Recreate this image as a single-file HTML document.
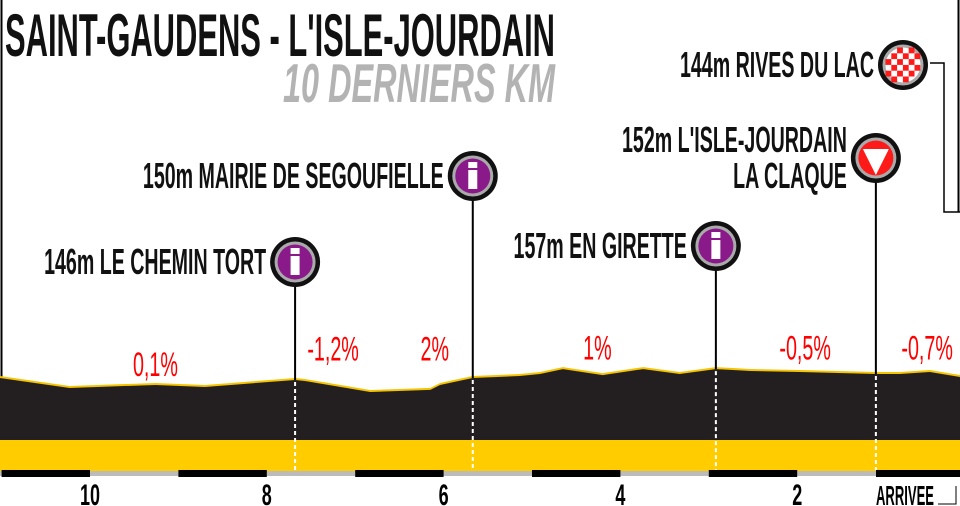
<!DOCTYPE html>
<html><head><meta charset="utf-8"><style>
html,body{margin:0;padding:0;background:#fff;width:960px;height:506px;overflow:hidden}
svg{display:block}
.lbl{font-family:"Liberation Sans",sans-serif;font-weight:bold;fill:#111}
.pct{font-family:"Liberation Sans",sans-serif;fill:#ff0000}
.ax{font-family:"Liberation Sans",sans-serif;font-weight:bold;fill:#000}
</style></head><body>
<svg id="chart" width="960" height="506" viewBox="0 0 960 506">
<g id="frame">
<line x1="1.5" y1="0" x2="1.5" y2="378" stroke="#000" stroke-width="2"/>
<line x1="958.5" y1="0" x2="958.5" y2="212" stroke="#000" stroke-width="2"/>
<polyline points="930,63 944,63 944,212 960,212" fill="none" stroke="#000" stroke-width="1.5"/>
</g>
<text class="lbl" x="5" y="56" font-size="60" textLength="550" lengthAdjust="spacingAndGlyphs">SAINT-GAUDENS - L'ISLE-JOURDAIN</text>
<text class="lbl" x="283" y="102" font-size="55" font-style="italic" style="fill:#b3b3b3" textLength="272" lengthAdjust="spacingAndGlyphs">10 DERNIERS KM</text>
<g id="profile"></g>
<g id="axis"></g>
<g id="markers"></g>
<g id="pcts"></g>
</svg>
<script>
const kms=[11.02,10.23,9.26,8.70,7.68,7.57,6.83,6.15,6.04,5.67,5.14,4.91,4.65,4.20,3.74,3.33,2.92,2.73,2.53,1.97,1.11,0.84,0.50,0.16];
const elevs=[151,144.2,146.3,144.9,149.7,149,141.5,142.9,146.3,151,152.4,153.7,157.1,153,157.1,153.7,157.1,156.5,155.8,155.1,153.7,153.7,155.1,151.7];
const tickKm=[10,8,6,4,2];
const tickLabels=["10","8","6","4","2"];
const gradeLabels=["0,1%","-1,2%","2%","1%","-0,5%","-0,7%"];
const gradeKm=[9.26,7.25,6.1,4.26,1.91,0.53];
const gradeElev=[152.5,163,163,163.5,163.5,163.5];
const poiNames=[["146m LE CHEMIN TORT"],["150m MAIRIE DE SEGOUFIELLE"],["157m EN GIRETTE"],["152m L'ISLE-JOURDAIN","LA CLAQUE"]];
const poiKm=[7.68,5.67,2.92,1.11];
const poiY=[262,176,246,158];
const poiType=["info","info","info","finish"];
const NS="http://www.w3.org/2000/svg";
const X=km=>974-88.4*km;
const Y=e=>600-e*1.47;
function mk(tag,attrs,parent){const el=document.createElementNS(NS,tag);for(const k in attrs)el.setAttribute(k,attrs[k]);parent.appendChild(el);return el;}
const prof=document.getElementById('profile');
const pts=kms.map((k,i)=>[X(k),Y(elevs[i])]);
pts[0][0]=0;pts[pts.length-1][0]=960;
const topLine=pts.map(p=>p[0]+','+p[1]).join(' ');
const yl=mk('polygon',{points:pts.map(p=>p[0]+','+(p[1]-2)).join(' ')+' 960,440 0,440',fill:'#f5c400'},prof);


const dk=mk('polygon',{points:topLine+' 960,440 0,440',fill:'#231f20'},prof);


const band=mk('rect',{x:0,y:440,width:960,height:31,fill:'#ffcc00'},prof);


const ax=document.getElementById('axis');
mk('rect',{x:0,y:471,width:960,height:5,fill:'#bbbbbb'},ax);
for(let i=0;i<6;i++){
 const x0=Math.max(0,X(11-2*i));const x1=X(10-2*i);
 const r=mk('rect',{x:x0,y:470,width:x1-x0,height:7,fill:'#000'},ax);
 
 
}
mk('rect',{x:876,y:470,width:84,height:7,fill:'#000'},ax);
tickKm.forEach((k,i)=>{
 const t=mk('text',{class:'ax',x:X(k),y:505,'font-size':30,'text-anchor':'middle',transform:`translate(${X(k)} 0) scale(0.6 1) translate(${-X(k)} 0)`},ax);
 t.textContent=tickLabels[i];
 
 
});
const ar=mk('text',{class:'ax',x:876,y:505,'font-size':28,textLength:58,lengthAdjust:'spacingAndGlyphs'},ax);
ar.textContent='ARRIVEE';


mk('polyline',{points:'938,504 956,504 956,486',fill:'none',stroke:'#000','stroke-width':1},ax);
const pc=document.getElementById('pcts');
gradeLabels.forEach((g,i)=>{
 const gx=X(gradeKm[i]);
 const t=mk('text',{class:'pct',x:gx,y:Y(gradeElev[i]),'font-size':34,'text-anchor':'middle',transform:`translate(${gx} 0) scale(0.58 1) translate(${-gx} 0)`},pc);
 t.textContent=g;
 
 
});
const mg=document.getElementById('markers');
function marker(x,y,type,parent){
 mk('circle',{cx:x,cy:y,r:25,fill:'#111'},parent);
 mk('circle',{cx:x,cy:y,r:20.5,fill:'#aaa'},parent);
 if(type==='info'){
  mk('circle',{cx:x,cy:y,r:17.5,fill:'#8a1a8a'},parent);
  mk('rect',{x:x-4.5,y:y-14,width:9,height:6,fill:'#fff'},parent);
  mk('rect',{x:x-4.5,y:y-6,width:9,height:19,fill:'#fff'},parent);
 } else if(type==='finish'){
  mk('circle',{cx:x,cy:y,r:17.5,fill:'#ff1a1a'},parent);
  mk('polygon',{points:`${x-13},${y-9} ${x+13},${y-9} ${x},${y+17}`,fill:'#fff'},parent);
 } else {
  mk('circle',{cx:x,cy:y,r:17.5,fill:'#fff'},parent);
  const s=5.8;
  for(let r=0;r<6;r++)for(let c=0;c<6;c++)if((r+c)%2===0){
   const cx=x-17.5+c*s, cy=y-17.5+r*s;
   if(Math.hypot(cx+s/2-x,cy+s/2-y)<17)mk('rect',{x:cx,y:cy,width:s,height:s,fill:'#ff1a1a'},parent);
  }
 }
}
poiKm.forEach((k,i)=>{
 const g=mk('g',{},mg);
 
 
 const x=X(k);
 const ground=Y(elevs[kms.indexOf(k)]);
 mk('line',{x1:x,y1:poiY[i],x2:x,y2:ground,stroke:'#000','stroke-width':2},g);
 mk('line',{x1:x,y1:ground+2,x2:x,y2:470,stroke:'#fff','stroke-width':2,'stroke-dasharray':'4,3'},g);
 marker(x,poiY[i],poiType[i],g);
 const names=poiNames[i];
 names.forEach((n,j)=>{
  const by=poiY[i]+12-(names.length-1)*18+j*36;
  const lx=x-29;
  const t=mk('text',{class:'lbl',x:lx,y:by,'font-size':36,'text-anchor':'end',transform:`translate(${lx} 0) scale(0.545 1) translate(${-lx} 0)`},g);
  t.textContent=n;
  
  
 });
});
const fg=mk('g',{},mg);


marker(903,65,'check',fg);
const ft=mk('text',{class:'lbl',x:874,y:77,'font-size':36,'text-anchor':'end',transform:'translate(874 0) scale(0.545 1) translate(-874 0)'},fg);
ft.textContent='144m RIVES DU LAC';


</script>
</body></html>
